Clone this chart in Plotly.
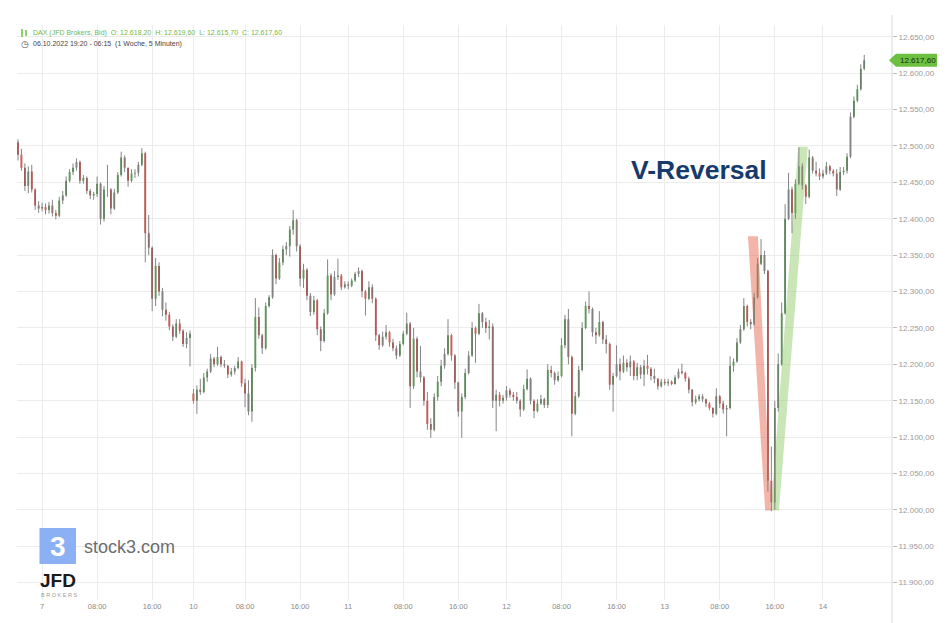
import plotly.graph_objects as go
from datetime import datetime, timedelta

# ---------------- data (30-minute candles) ----------------
sessions = [("2022-10-06 19:30", 7), ("2022-10-07 00:00", 44), ("2022-10-10 00:30", 45),
            ("2022-10-11 00:00", 46), ("2022-10-12 00:00", 46), ("2022-10-13 00:00", 46),
            ("2022-10-14 00:00", 13)]

opens = [
    12505, 12488, 12470, 12445, 12465, 12440, 12418,
    12414, 12416, 12412, 12418, 12408, 12404, 12425, 12432, 12452, 12464, 12470, 12478, 12452, 12456, 12438,
    12432, 12434, 12448, 12400, 12440, 12440, 12414, 12436, 12460, 12484, 12470, 12452, 12462, 12463, 12474,
    12490, 12380, 12360, 12290, 12335, 12300, 12275, 12268, 12252, 12238, 12256, 12246, 12228, 12236,
    12160, 12150, 12165, 12162, 12182, 12190, 12208, 12200, 12210, 12200, 12198, 12186, 12190, 12195, 12204,
    12174, 12160, 12135, 12195, 12265, 12240, 12222, 12280, 12292, 12350, 12318, 12340, 12358, 12362, 12385,
    12398, 12362, 12318, 12330, 12294, 12272, 12288, 12248, 12232, 12270, 12322, 12296, 12320, 12322, 12306,
    12310, 12308, 12315, 12324, 12328, 12300, 12290, 12306, 12290, 12240, 12226, 12238, 12244, 12230, 12222,
    12212, 12228, 12242, 12256, 12170, 12235, 12190, 12182, 12150, 12118, 12110, 12155, 12176, 12198, 12214,
    12240, 12212, 12175, 12135, 12155, 12188, 12212, 12250, 12242, 12270, 12258, 12250, 12252, 12150, 12158, 12150,
    12154, 12164, 12158, 12155, 12150, 12138, 12166, 12180, 12150, 12136, 12146, 12152, 12144, 12192, 12188,
    12178, 12184, 12226, 12262, 12210, 12132, 12156, 12192, 12250, 12280, 12276, 12244, 12240, 12258, 12234,
    12228, 12172, 12184, 12200, 12190, 12202, 12196, 12204, 12184, 12196, 12186, 12198, 12194, 12184, 12180, 12170,
    12176, 12174, 12176, 12173, 12182, 12190, 12188, 12180, 12165, 12148, 12152, 12156, 12152, 12146, 12140,
    12132, 12156, 12146, 12138, 12140, 12198, 12204, 12230, 12248, 12280, 12258, 12255, 12292, 12338, 12350,
    12328, 12040, 12010, 12140, 12200, 12270, 12400, 12440, 12408, 12448, 12472, 12446, 12430, 12484, 12466, 12462,
    12458, 12462, 12472, 12466, 12462, 12440, 12464, 12466, 12485, 12540, 12562, 12578, 12606,
]
highs = [
    12509, 12496, 12476, 12472, 12474, 12442, 12424,
    12422, 12421, 12423, 12426, 12412, 12430, 12438, 12458, 12468, 12476, 12483, 12480, 12460, 12458, 12441,
    12437, 12458, 12450, 12445, 12474, 12442, 12441, 12464, 12492, 12487, 12470, 12468, 12468, 12478, 12497,
    12492, 12405, 12362, 12346, 12340, 12305, 12285, 12272, 12255, 12262, 12262, 12248, 12244, 12246,
    12166, 12171, 12180, 12188, 12194, 12214, 12210, 12224, 12212, 12206, 12199, 12195, 12198, 12210, 12205,
    12180, 12178, 12200, 12291, 12278, 12242, 12285, 12295, 12358, 12352, 12346, 12363, 12368, 12390, 12412,
    12400, 12365, 12338, 12332, 12298, 12294, 12290, 12252, 12276, 12344, 12325, 12328, 12345, 12324, 12314,
    12314, 12318, 12327, 12333, 12330, 12302, 12314, 12310, 12292, 12242, 12245, 12254, 12246, 12235, 12226,
    12232, 12246, 12271, 12258, 12250, 12238, 12225, 12184, 12162, 12126, 12160, 12184, 12206, 12222, 12262,
    12242, 12214, 12176, 12160, 12194, 12218, 12258, 12252, 12283, 12272, 12264, 12261, 12256, 12165, 12162, 12158,
    12170, 12167, 12162, 12162, 12152, 12172, 12193, 12182, 12152, 12152, 12158, 12154, 12200, 12198, 12190,
    12190, 12236, 12268, 12276, 12212, 12162, 12198, 12258, 12286, 12300, 12278, 12250, 12273, 12260, 12240,
    12230, 12188, 12226, 12208, 12212, 12207, 12212, 12206, 12202, 12199, 12206, 12213, 12196, 12194, 12181, 12180,
    12180, 12180, 12178, 12185, 12194, 12201, 12190, 12183, 12166, 12157, 12159, 12159, 12153, 12148, 12141,
    12167, 12158, 12150, 12144, 12211, 12208, 12236, 12254, 12291, 12282, 12262, 12298, 12346, 12372, 12356,
    12330, 12087, 12150, 12215, 12285, 12420, 12463, 12444, 12454, 12498, 12476, 12448, 12495, 12486, 12478, 12469,
    12467, 12478, 12474, 12468, 12468, 12471, 12471, 12490, 12546, 12568, 12584, 12612, 12625,
]
lows = [
    12480, 12466, 12438, 12435, 12436, 12412, 12408,
    12410, 12406, 12407, 12403, 12399, 12402, 12420, 12430, 12450, 12460, 12466, 12448, 12448, 12434, 12427,
    12426, 12430, 12392, 12396, 12430, 12406, 12412, 12434, 12458, 12464, 12444, 12450, 12456, 12458, 12472,
    12340, 12350, 12273, 12280, 12294, 12266, 12260, 12247, 12232, 12236, 12242, 12224, 12222, 12197,
    12146, 12132, 12158, 12160, 12176, 12188, 12196, 12198, 12196, 12195, 12181, 12183, 12186, 12193, 12169,
    12141, 12130, 12121, 12190, 12235, 12214, 12220, 12278, 12290, 12310, 12316, 12336, 12350, 12348, 12378,
    12355, 12307, 12305, 12288, 12266, 12268, 12240, 12218, 12230, 12268, 12288, 12294, 12316, 12302, 12304,
    12303, 12306, 12313, 12320, 12292, 12267, 12288, 12284, 12232, 12220, 12224, 12234, 12224, 12218, 12207,
    12210, 12226, 12240, 12140, 12166, 12182, 12175, 12143, 12110, 12099, 12108, 12150, 12170, 12194, 12212,
    12205, 12166, 12128, 12099, 12152, 12186, 12210, 12202, 12240, 12250, 12243, 12234, 12140, 12108, 12142, 12146,
    12150, 12154, 12150, 12146, 12128, 12136, 12164, 12145, 12126, 12134, 12144, 12140, 12140, 12182, 12172,
    12176, 12182, 12222, 12200, 12101, 12130, 12154, 12190, 12248, 12270, 12238, 12228, 12238, 12228, 12215,
    12165, 12135, 12182, 12178, 12188, 12190, 12184, 12178, 12178, 12180, 12170, 12186, 12178, 12174, 12165, 12168,
    12171, 12170, 12171, 12172, 12180, 12186, 12176, 12160, 12142, 12145, 12149, 12148, 12141, 12137, 12127,
    12130, 12140, 12132, 12101, 12138, 12190, 12202, 12228, 12246, 12252, 12248, 12253, 12290, 12336, 12324,
    12025, 11998, 12000, 12135, 12198, 12268, 12398, 12380, 12400, 12446, 12440, 12420, 12428, 12462, 12458, 12453,
    12455, 12460, 12461, 12458, 12431, 12438, 12460, 12462, 12483, 12538, 12560, 12576, 12604,
]
closes = [
    12488, 12470, 12445, 12465, 12440, 12418, 12414,
    12416, 12412, 12418, 12408, 12404, 12425, 12432, 12452, 12464, 12470, 12478, 12452, 12456, 12438, 12432,
    12434, 12448, 12400, 12440, 12440, 12414, 12436, 12460, 12484, 12470, 12452, 12462, 12463, 12474, 12490,
    12380, 12360, 12290, 12335, 12300, 12275, 12268, 12252, 12238, 12256, 12246, 12228, 12236, 12242,
    12150, 12165, 12162, 12182, 12190, 12208, 12200, 12210, 12200, 12198, 12186, 12190, 12195, 12204, 12174,
    12160, 12135, 12195, 12265, 12240, 12222, 12280, 12292, 12350, 12318, 12340, 12358, 12362, 12385, 12398,
    12362, 12318, 12330, 12294, 12272, 12288, 12248, 12232, 12270, 12322, 12296, 12320, 12322, 12306, 12310,
    12308, 12315, 12324, 12328, 12300, 12290, 12306, 12290, 12240, 12226, 12238, 12244, 12230, 12222, 12212,
    12228, 12242, 12256, 12170, 12235, 12190, 12182, 12150, 12118, 12110, 12155, 12176, 12198, 12214, 12240,
    12212, 12175, 12135, 12155, 12188, 12212, 12250, 12242, 12270, 12258, 12250, 12252, 12150, 12158, 12150, 12154,
    12164, 12158, 12155, 12150, 12138, 12166, 12180, 12150, 12136, 12146, 12152, 12144, 12192, 12188, 12178,
    12184, 12226, 12262, 12210, 12132, 12156, 12192, 12250, 12280, 12276, 12244, 12240, 12258, 12234, 12228,
    12172, 12184, 12200, 12190, 12202, 12196, 12204, 12184, 12196, 12186, 12198, 12194, 12184, 12180, 12170, 12176,
    12174, 12176, 12173, 12182, 12190, 12188, 12180, 12165, 12148, 12152, 12156, 12152, 12146, 12140, 12132,
    12156, 12146, 12138, 12140, 12198, 12204, 12230, 12248, 12280, 12258, 12255, 12292, 12338, 12350, 12328,
    12040, 12010, 12140, 12200, 12270, 12400, 12440, 12408, 12448, 12472, 12446, 12430, 12484, 12466, 12462, 12458,
    12462, 12472, 12466, 12462, 12440, 12464, 12466, 12485, 12540, 12562, 12578, 12606, 12617.6,
]

y_ticks = list(range(11900, 12651, 50))
tick_times = ("08:00", "16:00")
header_1 = "DAX (JFD Brokers, Bid)  O: 12.618,20  H: 12.619,60  L: 12.615,70  C: 12.617,60"
header_2 = "06.10.2022 19:20 - 06:15  (1 Woche, 5 Minuten)"
last_label = "12.617,60"
title_text = "V-Reversal"

# V-reversal highlight bands (index units / price)
down_band_x = [212.2, 215.1, 218.9, 217.2]
down_band_y = [12376, 12376, 11999, 11999]
up_band_x = [218.9, 221.2, 229.6, 226.8]
up_band_y = [11999, 11999, 12499, 12499]

# ---------------- build ----------------
times = []
for start, n in sessions:
    t0 = datetime.strptime(start, "%Y-%m-%d %H:%M")
    times += [t0 + timedelta(minutes=30 * k) for k in range(n)]
x = list(range(len(times)))

tickvals, ticktext = [], []
for k, t in enumerate(times):
    if k > 0 and t.date() != times[k - 1].date():
        tickvals.append(k); ticktext.append(str(t.day))
    elif t.strftime("%H:%M") in tick_times:
        tickvals.append(k); ticktext.append(t.strftime("%H:%M"))

GREEN = "#2c7a27"
RED = "#b81c17"
W, H = 951, 623
L_PX, R_PX, T_PX, B_PX = 17, 892, 25, 600


def px(xp):
    return (xp - L_PX) / (R_PX - L_PX)


def py(yp):
    return (B_PX - yp) / (B_PX - T_PX)


wx, wy = [], []
for k in x:
    wx += [k, k, None]
    wy += [lows[k], highs[k], None]

fig = go.Figure()
fig.add_trace(go.Scatter(x=down_band_x, y=down_band_y, fill="toself", mode="lines",
                         line=dict(width=0), fillcolor="rgba(232,112,92,0.52)", hoverinfo="skip"))
fig.add_trace(go.Scatter(x=up_band_x, y=up_band_y, fill="toself", mode="lines",
                         line=dict(width=0), fillcolor="rgba(150,205,110,0.5)", hoverinfo="skip"))
fig.add_trace(go.Scatter(x=wx, y=wy, mode="lines", line=dict(color="#858585", width=1),
                         hoverinfo="skip"))
fig.add_trace(go.Candlestick(x=x, open=opens, high=highs, low=lows, close=closes,
                             increasing=dict(line=dict(color=GREEN, width=0), fillcolor=GREEN),
                             decreasing=dict(line=dict(color=RED, width=0), fillcolor=RED),
                             whiskerwidth=0))

fig.update_layout(
    width=W, height=H, margin=dict(l=L_PX, r=W - R_PX, t=T_PX, b=H - B_PX),
    paper_bgcolor="white", plot_bgcolor="white", showlegend=False,
    separators=",.", font=dict(family="Liberation Sans, Arial, sans-serif"),
)
fig.update_xaxes(range=[-0.29, 254.07], tickvals=tickvals, ticktext=ticktext,
                 showgrid=True, gridcolor="#ececec", gridwidth=1, zeroline=False, showline=False,
                 ticks="", tickfont=dict(size=7.5, color="#8a8a8a"), rangeslider_visible=False)
fig.update_yaxes(side="right", range=[11876.2, 12666.1], tickvals=y_ticks, tickformat=",.2f",
                 showgrid=True, gridcolor="#ececec", gridwidth=1, zeroline=False,
                 showline=False, ticks="outside", ticklen=4, tickcolor="#bdbdbd",
                 tickfont=dict(size=8, color="#9a9a9a"))

shapes = [
    dict(type="line", xref="paper", yref="paper", x0=1, x1=1, y0=py(623), y1=py(15),
         line=dict(color="#d9d9d9", width=1)),
    # last price tag
    dict(type="path", xref="paper", yref="y", xsizemode="pixel", ysizemode="pixel",
         xanchor=1, yanchor=closes[-1], path="M-3,0L4,6.5L45,6.5L45,-6.5L4,-6.5Z",
         fillcolor="#6cbf3f", line=dict(width=0)),
    # stock3 logo square
    dict(type="rect", xref="paper", yref="paper", x0=px(39.5), x1=px(76), y0=py(564), y1=py(528),
         fillcolor="#8bb0f3", line=dict(width=0), layer="above"),
    # header icon
    dict(type="line", xref="paper", yref="paper", x0=px(22), x1=px(22), y0=py(37), y1=py(29),
         line=dict(color="#6cbf3f", width=1.5)),
    dict(type="line", xref="paper", yref="paper", x0=px(26), x1=px(26), y0=py(36), y1=py(30),
         line=dict(color="#6cbf3f", width=1.5)),
]
fig.update_layout(shapes=shapes)

ann = [
    dict(x=1, y=closes[-1], xref="paper", yref="y", xanchor="left", yanchor="middle", xshift=6,
         text=last_label, showarrow=False, font=dict(size=8, color="#1b2a12")),
    dict(x=px(31), y=py(33), xref="paper", yref="paper", xanchor="left", yanchor="middle",
         text=header_1, showarrow=False, font=dict(size=7, color="#72b84a")),
    dict(x=px(19), y=py(43.5), xref="paper", yref="paper", xanchor="left", yanchor="middle",
         text="◷", showarrow=False, font=dict(size=9, color="#555555")),
    dict(x=px(31), y=py(43.5), xref="paper", yref="paper", xanchor="left", yanchor="middle",
         text=header_2, showarrow=False, font=dict(size=7, color="#444444")),
    dict(x=px(698.5), y=py(170), xref="paper", yref="paper", xanchor="center", yanchor="middle",
         text="<b>" + title_text + "</b>", showarrow=False, font=dict(size=26.5, color="#153a6b")),
    dict(x=px(57.8), y=py(546), xref="paper", yref="paper", xanchor="center", yanchor="middle",
         text="<b>3</b>", showarrow=False, font=dict(size=28, color="white")),
    dict(x=px(82), y=py(547), xref="paper", yref="paper", xanchor="left", yanchor="middle",
         text="stock3.com", showarrow=False, font=dict(size=18, color="#6d6d6d")),
    dict(x=px(38), y=py(580.5), xref="paper", yref="paper", xanchor="left", yanchor="middle",
         text="<b>JFD</b>", showarrow=False, font=dict(size=19, color="#1a1a1a")),
    dict(x=px(38.5), y=py(595), xref="paper", yref="paper", xanchor="left", yanchor="middle",
         text="B R O K E R S", showarrow=False, font=dict(size=5.5, color="#9a9a9a")),
]
fig.update_layout(annotations=ann)

fig.write_html("out.html", config={"displayModeBar": False},
               post_script="document.body.style.margin='0px';")
